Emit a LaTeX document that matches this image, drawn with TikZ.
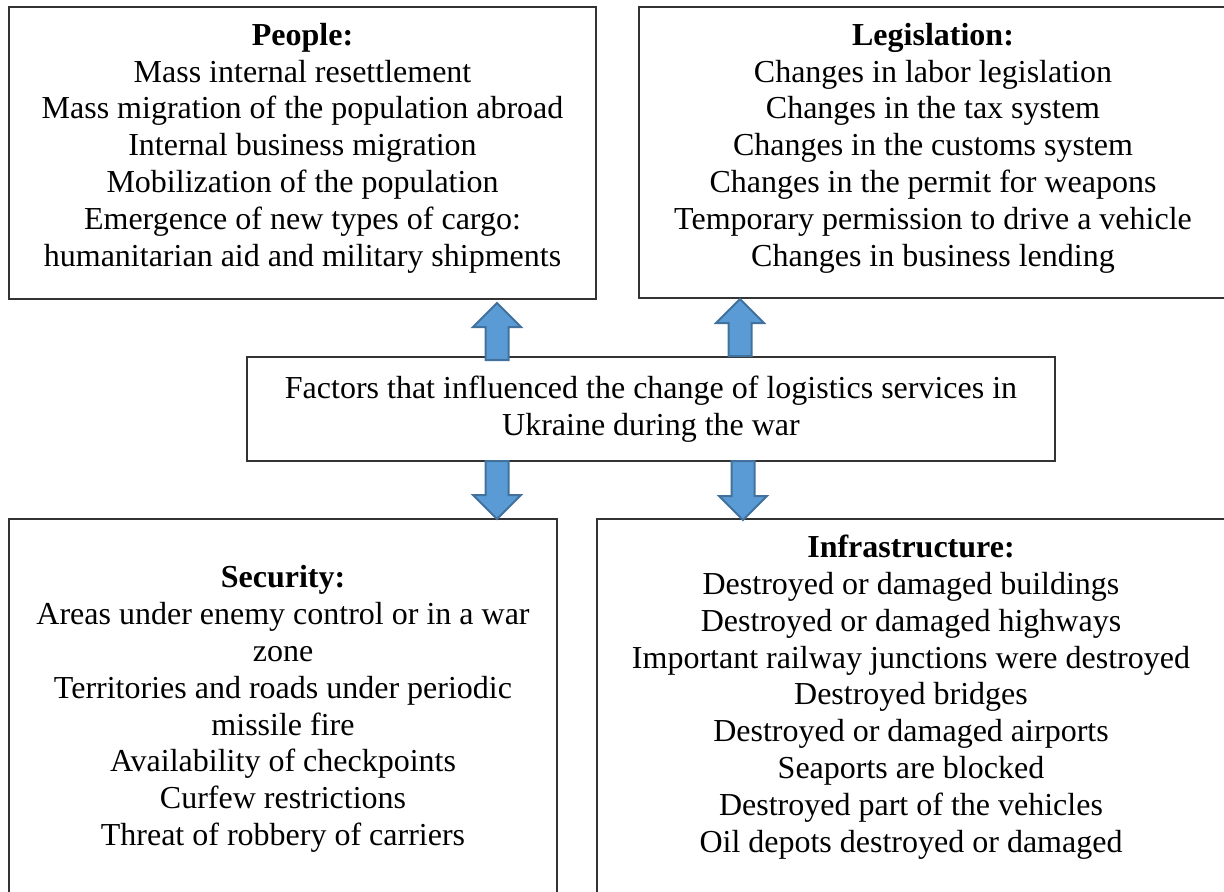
\documentclass[tikz,border=0pt]{standalone}
\usepackage{fontspec}
\setmainfont{Liberation Serif}
\definecolor{arrowfill}{HTML}{5B9BD5}
\definecolor{arrowedge}{HTML}{41719C}

% block arrows: x, y of tail, y of tip
\newcommand{\blockup}[3]{\draw[blockarrow] (#1-11.5,#2) -- (#1-11.5,#3+24) -- (#1-24,#3+24) -- (#1,#3) -- (#1+24,#3+24) -- (#1+11.5,#3+24) -- (#1+11.5,#2) -- cycle;}
\newcommand{\blockdown}[3]{\draw[blockarrow] (#1-11.5,#2) -- (#1-11.5,#3-24) -- (#1-24,#3-24) -- (#1,#3) -- (#1+24,#3-24) -- (#1+11.5,#3-24) -- (#1+11.5,#2) -- cycle;}

\begin{document}
\begin{tikzpicture}[x=0.5pt,y=-0.5pt]
\tikzstyle{every node}+=[inner sep=0pt, align=center, font=\fontsize{16}{18.4}\selectfont]
\tikzstyle{box}=[draw=black!80, line width=1pt]
\tikzstyle{blockarrow}=[draw=arrowedge, fill=arrowfill, line width=1pt]
\useasboundingbox (0,0) rectangle (1224,891);
% boxes
\draw [box] (9,7) rectangle (596,299);
\draw [box] (639,7) rectangle (1240,298);
\draw [box] (9,519) rectangle (557,910);
\draw [box] (597,519) rectangle (1240,910);
\node [box, minimum width=404pt, minimum height=52pt] (factors) at (651,409) {Factors that influenced the change of logistics services in\\Ukraine during the war};
% texts
\node (people) at (302.5,148) {\textbf{People:}\\Mass internal resettlement\\Mass migration of the population abroad\\Internal business migration\\Mobilization of the population\\Emergence of new types of cargo:\\humanitarian aid and military shipments};
\node (legislation) at (933,148) {\textbf{Legislation:}\\Changes in labor legislation\\Changes in the tax system\\Changes in the customs system\\Changes in the permit for weapons\\Temporary permission to drive a vehicle\\Changes in business lending};
\node (security) at (283,709) {\textbf{Security:}\\Areas under enemy control or in a war\\zone\\Territories and roads under periodic\\missile fire\\Availability of checkpoints\\Curfew restrictions\\Threat of robbery of carriers};
\node (infrastructure) at (911,697) {\textbf{Infrastructure:}\\Destroyed or damaged buildings\\Destroyed or damaged highways\\Important railway junctions were destroyed\\Destroyed bridges\\Destroyed or damaged airports\\Seaports are blocked\\Destroyed part of the vehicles\\Oil depots destroyed or damaged};
% arrows
\blockup{497}{360}{303}
\blockup{740}{356}{299}
\blockdown{497}{461}{519}
\blockdown{743}{461}{520}
\end{tikzpicture}
\end{document}
